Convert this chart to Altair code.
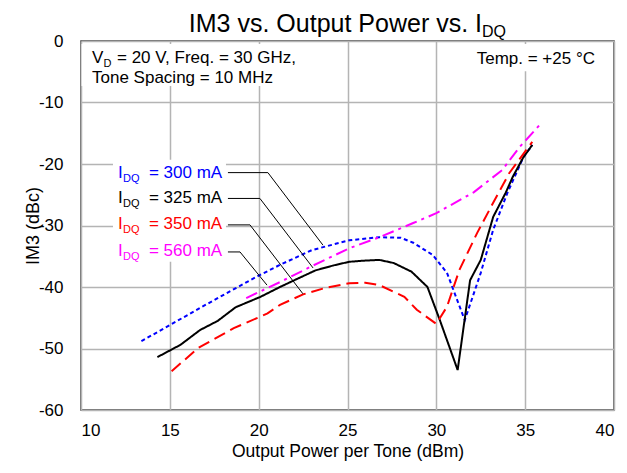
import altair as alt
import pandas as pd

FONT = "Liberation Sans"

# ---- data ----
x300 = [13.4, 15.0, 16.7, 18.2, 19.9, 21.2, 23.0, 25.1, 26.8, 28.0, 28.7, 29.8, 30.6, 31.6, 32.5, 33.2, 34.0, 34.9, 35.4]
y300 = [-48.8, -46.2, -43.4, -41.0, -38.3, -36.4, -34.0, -32.4, -31.9, -32.0, -32.8, -34.8, -37.7, -45.4, -37.7, -30.7, -24.7, -18.9, -16.9]

x325 = [14.3, 15.6, 16.7, 17.7, 18.7, 20.1, 21.2, 22.3, 23.2, 24.2, 25.1, 26.0, 26.8, 27.6, 28.6, 29.5, 30.2, 31.2, 31.9, 32.5, 33.2, 33.9, 34.3, 34.9, 35.4]
y325 = [-51.4, -49.4, -47.0, -45.5, -43.3, -41.6, -40.0, -38.5, -37.3, -36.5, -35.9, -35.7, -35.6, -36.1, -37.5, -40.0, -45.4, -53.5, -38.9, -35.6, -28.6, -24.7, -22.1, -18.9, -16.9]

x350 = [15.1, 16.6, 18.6, 20.5, 21.2, 22.5, 23.8, 25.1, 26.0, 26.8, 28.2, 28.9, 30.0, 30.6, 31.3, 32.3, 33.2, 34.1, 35.4]
y350 = [-53.7, -49.9, -46.7, -44.3, -42.9, -41.2, -40.1, -39.4, -39.3, -39.7, -41.6, -43.7, -46.0, -43.2, -37.2, -31.2, -26.3, -21.5, -16.4]

x560 = [19.3, 21.2, 23.0, 25.1, 26.8, 28.7, 30.0, 32.1, 33.7, 34.7, 35.8]
y560 = [-41.8, -39.2, -36.6, -33.7, -31.9, -29.6, -28.0, -24.6, -21.0, -17.2, -13.7]

series_names = ["300", "325", "350", "560"]
series_x = [x300, x325, x350, x560]
series_y = [y300, y325, y350, y560]
series_colors = ["#0000ff", "#000000", "#ff0000", "#ff00ff"]
series_dash = [[4, 3], [1, 0], [12, 6], [12, 5, 3, 5]]

# label annotations (data coordinates)
label_x = 12.08
label_y = [-22.3, -26.3, -30.6, -35.0]
label_text = ["= 300 mA", "= 325 mA", "= 350 mA", "= 560 mA"]
leader_x = [[18.27, 20.52, 23.62], [18.27, 20.07, 23.06], [18.27, 19.51, 22.49], [18.27, 18.95, 20.47]]
leader_y = [[-21.4, -21.4, -33.2], [-25.6, -25.6, -36.9], [-29.9, -29.9, -41.1], [-34.3, -34.3, -39.7]]

x_ticks = [10, 15, 20, 25, 30, 35, 40]
y_ticks = [-60, -50, -40, -30, -20, -10, 0]

# white boxes behind text (data coordinates)
box_x = [10.03, 31.67, 11.8]
box_x2 = [22.6, 39.2, 18.16]
box_y = [-0.5, -0.5, -19.3]
box_y2 = [-7.3, -4.9, -35.9]

xscale = alt.Scale(domain=[10, 40], nice=False, zero=False)
yscale = alt.Scale(domain=[-60, 0], nice=False, zero=False)

xaxis = alt.Axis(values=x_ticks, title="Output Power per Tone (dBm)", labelPadding=12,
                 titlePadding=4, titleFontSize=17.5, grid=True, labelExpr="'' + datum.value")
yaxis = alt.Axis(values=y_ticks, title="IM3 (dBc)", labelPadding=18, titlePadding=-4,
                 titleFontSize=18, grid=True, labelExpr="'' + datum.value")


def X(field="x"):
    return alt.X(f"{field}:Q", scale=xscale, axis=xaxis)


def Y(field="y"):
    return alt.Y(f"{field}:Q", scale=yscale, axis=yaxis)


layers = []

# white boxes
box_df = pd.DataFrame({"x": box_x, "x2": box_x2, "y": box_y, "y2": box_y2})
layers.append(
    alt.Chart(box_df).mark_rect(fill="white", stroke=None).encode(
        x=X(), x2="x2:Q", y=Y(), y2="y2:Q"
    )
)

# data series
for name, xs, ys, c, d in zip(series_names, series_x, series_y, series_colors, series_dash):
    df = pd.DataFrame({"x": xs, "y": ys, "i": list(range(len(xs)))})
    layers.append(
        alt.Chart(df).mark_line(color=c, strokeWidth=2, strokeDash=d, clip=True).encode(
            x=X(), y=Y(), order="i:Q"
        )
    )

# leader lines
for lx, ly in zip(leader_x, leader_y):
    df = pd.DataFrame({"x": lx, "y": ly, "i": [0, 1, 2]})
    layers.append(
        alt.Chart(df).mark_line(color="black", strokeWidth=1).encode(x=X(), y=Y(), order="i:Q")
    )

# series labels  I_DQ = ... mA
for ly, txt, c in zip(label_y, label_text, series_colors):
    df = pd.DataFrame({"x": [label_x], "y": [ly], "a": ["I"], "b": ["DQ"], "t": [txt]})
    base = alt.Chart(df)
    layers.append(base.mark_text(align="left", baseline="alphabetic", font=FONT, fontSize=17,
                                 color=c).encode(x=X(), y=Y(), text="a:N"))
    layers.append(base.mark_text(align="left", baseline="alphabetic", font=FONT, fontSize=11,
                                 color=c, dx=5, dy=4).encode(x=X(), y=Y(), text="b:N"))
    layers.append(base.mark_text(align="left", baseline="alphabetic", font=FONT, fontSize=17,
                                 color=c, dx=31).encode(x=X(), y=Y(), text="t:N"))

# condition texts
cond_df = pd.DataFrame({"x": [10.62], "y": [-3.6], "a": ["V"], "b": ["D"],
                        "t": ["= 20 V, Freq. = 30 GHz,"]})
cb = alt.Chart(cond_df)
layers.append(cb.mark_text(align="left", baseline="alphabetic", font=FONT, fontSize=17,
                           color="black").encode(x=X(), y=Y(), text="a:N"))
layers.append(cb.mark_text(align="left", baseline="alphabetic", font=FONT, fontSize=11,
                           color="black", dx=11.5, dy=4).encode(x=X(), y=Y(), text="b:N"))
layers.append(cb.mark_text(align="left", baseline="alphabetic", font=FONT, fontSize=17,
                           color="black", dx=25).encode(x=X(), y=Y(), text="t:N"))

line2_df = pd.DataFrame({"x": [10.62], "y": [-6.88], "t": ["Tone Spacing = 10 MHz"]})
layers.append(alt.Chart(line2_df).mark_text(align="left", baseline="alphabetic", font=FONT,
                                            fontSize=17, color="black").encode(x=X(), y=Y(), text="t:N"))

temp_df = pd.DataFrame({"x": [38.93], "y": [-3.8], "t": ["Temp. = +25 °C"]})
layers.append(alt.Chart(temp_df).mark_text(align="right", baseline="alphabetic", font=FONT,
                                           fontSize=17, color="black").encode(x=X(), y=Y(), text="t:N"))

# title with subscript
title_df = pd.DataFrame({"a": ["IM3 vs. Output Power vs. I"], "b": ["DQ"]})
tb = alt.Chart(title_df)
layers.append(tb.mark_text(align="right", baseline="alphabetic", font=FONT, fontSize=25,
                           color="black").encode(x=alt.value(401), y=alt.value(-9), text="a:N"))
layers.append(tb.mark_text(align="left", baseline="alphabetic", font=FONT, fontSize=16,
                           color="black", dy=5).encode(x=alt.value(401), y=alt.value(-9), text="b:N"))

chart = alt.layer(*layers).properties(
    width=533,
    height=369,
    autosize=alt.AutoSizeParams(type="none"),
    padding={"left": 73, "top": 33, "right": 5, "bottom": 55},
    background="white",
).configure_view(
    stroke="#404040", strokeWidth=1.5
).configure_axis(
    gridColor="#b4b4b4", gridWidth=1.5, domain=False, ticks=False,
    labelFont=FONT, labelFontSize=17, labelColor="black",
    titleFont=FONT, titleFontWeight="normal", titleColor="black",
)

chart.save("out.html", embed_options={"renderer": "svg", "actions": False})
